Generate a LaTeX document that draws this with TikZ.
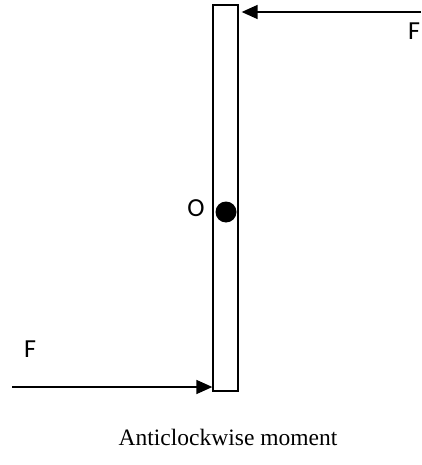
\documentclass[tikz,border=0pt]{standalone}
\usepackage{fontspec}
\setmainfont{Liberation Serif}
\newfontfamily\lblfont{Carlito}
\usetikzlibrary{arrows.meta,positioning}
\tikzset{
  rod/.style={draw=black,line width=1.3pt,minimum width=25pt,minimum height=386pt,inner sep=0pt},
  force/.style={-{Triangle[length=16pt,width=14pt]},draw=black,line width=1.6pt},
  lbl/.style={font=\lblfont\fontsize{26}{28}\selectfont,inner sep=0pt},
  pivot/.style={circle,fill=black,minimum size=21pt,inner sep=0pt},
  caption/.style={font=\fontsize{23.5}{26}\selectfont,inner sep=0pt},
}
\begin{document}
\begin{tikzpicture}[x=1pt,y=-1pt]
  \useasboundingbox (0,0) rectangle (421,465);
  % rod and pivot
  \node[rod] (rod) at (225.5,198) {};
  \node[pivot] (pv) at (226,212) {};
  \node[lbl] (o) at (196,208) {O};
  % forces
  \coordinate (ftop) at (421,12);
  \coordinate (fbot) at (12,387);
  \draw[force,shorten >=3pt] (ftop) -- (ftop -| rod.east);
  \draw[force] (fbot) -- (fbot -| rod.west);
  \node[lbl] (f1) at (414,31) {F};
  \node[lbl] (f2) at (30,349) {F};
  \node[caption] (cap) at (228,437) {Anticlockwise moment};
\end{tikzpicture}
\end{document}
